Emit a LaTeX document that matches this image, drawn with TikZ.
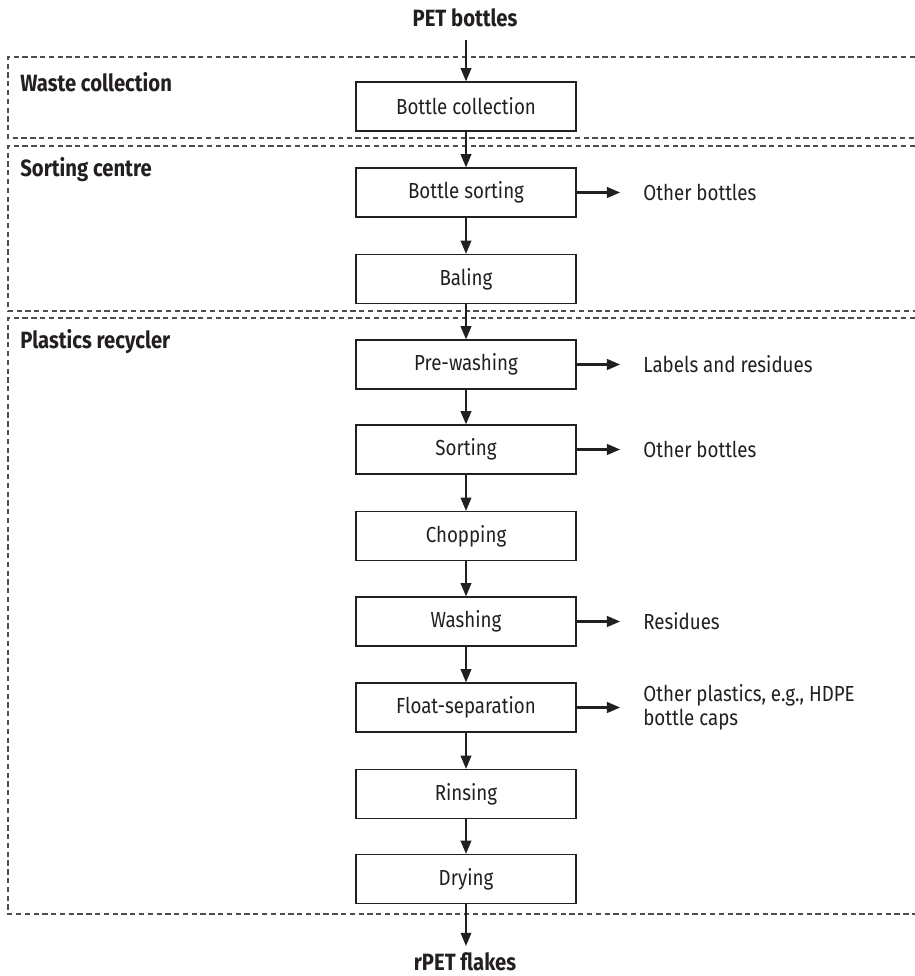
\documentclass[tikz,border=0pt]{standalone}
\usepackage{fontspec}
\setmainfont{Fira Sans}[FakeStretch=0.86]
\usetikzlibrary{arrows.meta}
\definecolor{ink}{HTML}{231F20}
\definecolor{dashc}{HTML}{4D4D4D}
\tikzset{
  procbox/.style={draw=ink, line width=0.7pt, minimum width=4.4cm, minimum height=0.98cm, inner sep=0pt, font=\fontsize{12.4}{15}\selectfont, text=ink},
  flow/.style={draw=ink, line width=1pt, -{Triangle[length=7.5pt,width=6pt]}},
  sideflow/.style={draw=ink, line width=1.4pt, -{Triangle[length=7.5pt,width=6pt]}},
  sidetext/.style={anchor=west, inner sep=0pt, align=left, font=\fontsize{12.4}{13.4}\selectfont, text=ink},
  grouplabel/.style={anchor=west, inner sep=0pt, font=\bfseries\fontsize{13.4}{15}\selectfont, text=ink},
  endtext/.style={inner sep=0pt, font=\bfseries\fontsize{13.4}{15}\selectfont, text=ink},
  grp/.style={draw=dashc, line width=0.6pt, dash pattern=on 3pt off 2pt}
}
\begin{document}
\begin{tikzpicture}[x=0.02cm,y=-0.02cm]
\useasboundingbox (0,0) rectangle (915,976);
% groups (right edges run off the page)
\draw[grp] (915,57) -- (8,57) -- (8,138) -- (915,138);
\draw[grp] (915,146) -- (8,146) -- (8,311) -- (915,311);
\draw[grp] (915,318) -- (8,318) -- (8,914) -- (915,914);
\node[grouplabel] (g1) at (20,82) {Waste collection};
\node[grouplabel] (g2) at (20,170) {Sorting centre};
\node[grouplabel] (g3) at (20,342) {Plastics recycler};
% ends
\node[endtext] (pet) at (465,18) {PET bottles};
\coordinate (petout) at (466,40);
\node[endtext] (rpet) at (465,962) {rPET flakes};
\coordinate (rpetin) at (466,946);
% process boxes
\node[procbox] (b1) at (466,106.5) {Bottle collection};
\node[procbox] (b2) at (466,192.5) {Bottle sorting};
\node[procbox] (b3) at (466,279) {Baling};
\node[procbox] (b4) at (466,364.5) {Pre-washing};
\node[procbox] (b5) at (466,449.5) {Sorting};
\node[procbox] (b6) at (466,536) {Chopping};
\node[procbox] (b7) at (466,621.5) {Washing};
\node[procbox] (b8) at (466,707.5) {Float-separation};
\node[procbox] (b9) at (466,794) {Rinsing};
\node[procbox] (b10) at (466,879) {Drying};
% vertical flow
\draw[flow] (petout) -- (b1);
\draw[flow] (b1) -- (b2);
\draw[flow] (b2) -- (b3);
\draw[flow] (b3) -- (b4);
\draw[flow] (b4) -- (b5);
\draw[flow] (b5) -- (b6);
\draw[flow] (b6) -- (b7);
\draw[flow] (b7) -- (b8);
\draw[flow] (b8) -- (b9);
\draw[flow] (b9) -- (b10);
\draw[flow] (b10) -- (rpetin);
% side outputs
\node[sidetext] (o2) at (643,192.5) {Other bottles};
\node[sidetext] (o4) at (643,364.5) {Labels and residues};
\node[sidetext] (o5) at (643,449.5) {Other bottles};
\node[sidetext] (o7) at (643,621.5) {Residues};
\node[sidetext] (o8) at (643,707.5) {Other plastics, e.g., HDPE\\bottle caps};
\draw[sideflow] (b2.east) -- ([xshift=-13]o2.west);
\draw[sideflow] (b4.east) -- ([xshift=-13]o4.west);
\draw[sideflow] (b5.east) -- ([xshift=-13]o5.west);
\draw[sideflow] (b7.east) -- ([xshift=-13]o7.west);
\draw[sideflow] (b8.east) -- ([xshift=-13]o8.west);
\end{tikzpicture}
\end{document}
